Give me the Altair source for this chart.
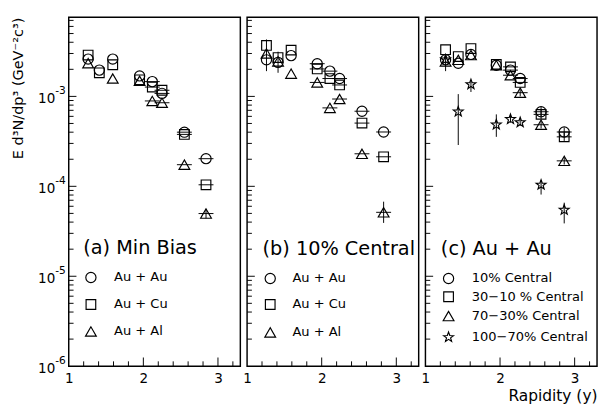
import altair as alt
import pandas as pd

FONT = "DejaVu Sans"

# ---------------- data ----------------
# (a) Min Bias
RAP_A = [1.26, 1.41, 1.59, 1.95, 2.12, 2.25, 2.55, 2.84]
A_AUAU = [2.60e-3, 1.96e-3, 2.60e-3, 1.69e-3, 1.46e-3, 1.08e-3, 4.00e-4, 2.03e-4]
A_AUCU = [2.88e-3, 1.83e-3, 2.25e-3, 1.53e-3, 1.27e-3, 1.17e-3, 3.78e-4, 1.04e-4]
A_AUAL = [2.34e-3, None, 1.58e-3, 1.49e-3, 8.90e-4, 8.50e-4, 1.74e-4, 4.98e-5]
A_AUAL_LO = [None, None, None, None, None, None, None, 4.40e-5]
A_AUAL_HI = [None, None, None, None, None, None, None, 5.60e-5]
XERR_A = [0, 0, 0, 0, 0.1, 0.1, 0.1, 0.1]

# (b) 10% Central
RAP_B = [1.26, 1.415, 1.59, 1.94, 2.11, 2.24, 2.54, 2.83]
B_AUAU = [2.55e-3, 2.39e-3, 2.84e-3, 2.31e-3, 1.91e-3, 1.58e-3, 6.84e-4, 4.02e-4]
B_AUCU = [3.69e-3, 2.70e-3, 3.27e-3, 2.02e-3, 1.58e-3, 1.34e-3, 5.05e-4, 2.13e-4]
B_AUAL = [3.00e-3, 2.45e-3, 1.79e-3, 1.43e-3, 7.45e-4, 9.35e-4, 2.30e-4, 5.14e-5]
B_AUAU_LO = [1.91e-3, 1.83e-3, None, None, None, None, None, None]
B_AUAU_HI = [3.27e-3, 3.14e-3, None, None, None, None, None, None]
B_AUCU_LO = [3.14e-3, None, None, None, None, None, None, None]
B_AUCU_HI = [4.30e-3, None, None, None, None, None, None, None]
B_AUAL_LO = [None, None, None, None, None, None, None, 3.92e-5]
B_AUAL_HI = [None, None, None, None, None, None, None, 6.75e-5]
XERR_B = [0, 0, 0, 0.1, 0.1, 0.1, 0.1, 0.1]

# (c) Au + Au centrality classes
RAP_C = [1.27, 1.44, 1.61, 1.95, 2.14, 2.27, 2.55, 2.86]
C_10 = [2.55e-3, 2.34e-3, 2.93e-3, 2.22e-3, 1.96e-3, 1.58e-3, 6.75e-4, 4.02e-4]
C_30_10 = [3.31e-3, 2.77e-3, 3.40e-3, 2.27e-3, 2.13e-3, 1.43e-3, 6.31e-4, 3.55e-4]
C_70_30 = [2.45e-3, 2.55e-3, 2.88e-3, 2.22e-3, 1.72e-3, 1.10e-3, 4.84e-4, 1.92e-4]
C_100_70 = [2.57e-3, 6.75e-4, 1.36e-3, 4.84e-4, 5.57e-4, 5.14e-4, 1.04e-4, 5.46e-5]
C_10_LO = [None, None, None, None, None, None, 6.00e-4, 3.60e-4]
C_10_HI = [None, None, None, None, None, None, 7.60e-4, 4.50e-4]
C_30_10_LO = [None, None, None, None, None, None, 5.60e-4, 3.20e-4]
C_30_10_HI = [None, None, None, None, None, None, 7.10e-4, 3.95e-4]
C_70_30_LO = [None, None, None, None, None, 1.00e-3, 4.40e-4, 1.75e-4]
C_70_30_HI = [None, None, None, None, None, 1.20e-3, 5.30e-4, 2.10e-4]
C_100_70_LO = [1.91e-3, 2.88e-4, 1.12e-3, 3.55e-4, 5.10e-4, 4.70e-4, 8.10e-5, 3.87e-5]
C_100_70_HI = [2.88e-3, 1.06e-3, 1.49e-3, 6.31e-4, 6.10e-4, 5.60e-4, 1.17e-4, 6.58e-5]
XERR_C = [0, 0, 0, 0, 0.1, 0.1, 0.1, 0.1]

Y_MAJOR = [1e-6, 1e-5, 1e-4, 1e-3]
Y_EXP = ["-6", "-5", "-4", "-3"]
Y_TOP = 7.6e-3
X_MAJOR = [2, 3]
X_MINOR = [1.2, 1.4, 1.6, 1.8, 2.2, 2.4, 2.6, 2.8, 3.2]

# ---------------- layout / style ----------------
W, H = 178, 362
STAR = ("M0,-1L0.24,-0.33L0.951,-0.309L0.39,0.127L0.588,0.809L0,0.41"
        "L-0.588,0.809L-0.39,0.127L-0.951,-0.309L-0.24,-0.33Z")
SYMBOLS = {
    "circle": ("circle", 112),
    "square": ("square", 100),
    "triangle": ("triangle-up", 125),
    "star": (STAR, 115),
}

XS = alt.Scale(domain=[1, 3.3], nice=False, zero=False)
YS = alt.Scale(type="log", domain=[1e-6, Y_TOP], nice=False)


def frame(rap, vals, sym, xerr, lo=None, hi=None):
    rows = []
    for i, (r, v) in enumerate(zip(rap, vals)):
        if v is None:
            continue
        rows.append(dict(rap=r, val=v, sym=sym,
                         xlo=r - xerr[i], xhi=r + xerr[i], xe=xerr[i],
                         lo=(lo[i] if lo else None), hi=(hi[i] if hi else None)))
    return rows


def y_minor():
    out = []
    for e in (-6, -5, -4, -3):
        for k in range(2, 10):
            v = k * 10.0 ** e
            if v < Y_TOP:
                out.append(v)
    return out


def panel(rows, legend_rows, title_text, first=False, last=False):
    df = pd.DataFrame(rows)

    xaxis_kw = dict(values=[1, 2, 3], format="d", tickSize=0, labelPadding=6,
                    domain=False, grid=False, labelFlush=False, labelFontSize=14,
                    labelFont=FONT, labelColor="black")
    if last:
        xaxis_kw.update(title="Rapidity (y)", titleFont=FONT, titleFontSize=16,
                        titleFontWeight="normal", titleColor="black",
                        titleAnchor="end", titleAlign="right", titleX=W,
                        titleY=31, titleBaseline="middle")
    else:
        xaxis_kw.update(title="")
    XA = alt.Axis(**xaxis_kw)
    if first:
        YA = alt.Axis(values=Y_MAJOR, tickSize=0, labels=False, domain=False,
                      grid=False,
                      title="E d\u00b3N/dp\u00b3 (GeV\u207b\u00b2c\u00b3)",
                      titleFont=FONT, titleFontSize=15, titleFontWeight="normal",
                      titleColor="black", titleAngle=-90, titleX=-53, titleY=0,
                      titleAlign="right", titleBaseline="middle")
    else:
        YA = None

    def X(field):
        return alt.X(field, type="quantitative", scale=XS, axis=XA)

    def Y(field):
        return alt.Y(field, type="quantitative", scale=YS, axis=YA)

    layers = []
    # inward y ticks
    ymaj = pd.DataFrame({"val": Y_MAJOR[1:]})
    ymin = pd.DataFrame({"val": y_minor()})
    layers.append(alt.Chart(ymaj).mark_rule(color="black", strokeWidth=1).encode(
        y=Y("val"), x=alt.value(0), x2=alt.value(8)))
    layers.append(alt.Chart(ymin).mark_rule(color="black", strokeWidth=1).encode(
        y=Y("val"), x=alt.value(0), x2=alt.value(5)))
    # inward x ticks
    xmaj = pd.DataFrame({"rap": X_MAJOR})
    xmin = pd.DataFrame({"rap": X_MINOR})
    layers.append(alt.Chart(xmaj).mark_rule(color="black", strokeWidth=1).encode(
        x=X("rap"), y=alt.value(H), y2=alt.value(H - 9)))
    layers.append(alt.Chart(xmin).mark_rule(color="black", strokeWidth=1).encode(
        x=X("rap"), y=alt.value(H), y2=alt.value(H - 5)))

    # y tick labels "10" with raised exponent
    if first:
        lab = pd.DataFrame({"val": Y_MAJOR, "exp": Y_EXP})
        layers.append(alt.Chart(lab).mark_text(
            text="10", align="right", baseline="middle", font=FONT, fontSize=14,
            color="black", dy=3).encode(y=Y("val"), x=alt.value(-14)))
        layers.append(alt.Chart(lab).mark_text(
            align="left", baseline="middle", font=FONT, fontSize=11,
            color="black", dy=-5).encode(y=Y("val"), x=alt.value(-14),
                                         text="exp:N"))

    # vertical error bars
    ev = df.dropna(subset=["lo"])
    if len(ev):
        layers.append(alt.Chart(ev).mark_rule(color="black", strokeWidth=1).encode(
            x=X("rap"), y=Y("lo"), y2="hi:Q"))
    # horizontal error bars
    eh = df[df["xe"] > 0]
    if len(eh):
        layers.append(alt.Chart(eh).mark_rule(color="black", strokeWidth=1).encode(
            x=X("xlo"), x2="xhi:Q", y=Y("val")))

    # data points
    for sym in ["circle", "square", "triangle", "star"]:
        sub = df[df["sym"] == sym]
        if not len(sub):
            continue
        shape, size = SYMBOLS[sym]
        layers.append(alt.Chart(sub).mark_point(
            shape=shape, size=size, filled=False, color="black",
            strokeWidth=1.2, opacity=1).encode(x=X("rap"), y=Y("val")))

    one = pd.DataFrame({"k": [0]})
    # panel label
    tx, ty = title_text[1], title_text[2]
    layers.append(alt.Chart(one).mark_text(text=title_text[0], align="left",
                                           baseline="middle", font=FONT, fontSize=20,
                                           color="black").encode(
        x=alt.value(tx), y=alt.value(ty)))
    # legend entries
    for sym, label, sx, tx2, yy in legend_rows:
        shape, size = SYMBOLS[sym]
        layers.append(alt.Chart(one).mark_point(shape=shape, size=size, filled=False,
                                                color="black", strokeWidth=1.2,
                                                opacity=1).encode(
            x=alt.value(sx), y=alt.value(yy)))
        layers.append(alt.Chart(one).mark_text(text=label, align="left",
                                               baseline="middle", font=FONT,
                                               fontSize=13.5, color="black").encode(
            x=alt.value(tx2), y=alt.value(yy)))

    return alt.layer(*layers).properties(width=W, height=H)


rows_a = (frame(RAP_A, A_AUAU, "circle", XERR_A)
          + frame(RAP_A, A_AUCU, "square", XERR_A)
          + frame(RAP_A, A_AUAL, "triangle", XERR_A, A_AUAL_LO, A_AUAL_HI))
rows_b = (frame(RAP_B, B_AUAU, "circle", XERR_B, B_AUAU_LO, B_AUAU_HI)
          + frame(RAP_B, B_AUCU, "square", XERR_B, B_AUCU_LO, B_AUCU_HI)
          + frame(RAP_B, B_AUAL, "triangle", XERR_B, B_AUAL_LO, B_AUAL_HI))
rows_c = (frame(RAP_C, C_10, "circle", XERR_C, C_10_LO, C_10_HI)
          + frame(RAP_C, C_30_10, "square", XERR_C, C_30_10_LO, C_30_10_HI)
          + frame(RAP_C, C_70_30, "triangle", XERR_C, C_70_30_LO, C_70_30_HI)
          + frame(RAP_C, C_100_70, "star", [0] * 8, C_100_70_LO, C_100_70_HI))

leg_a = [("circle", "Au + Au", 23, 47, 270),
         ("square", "Au + Cu", 23, 47, 298),
         ("triangle", "Au + Al", 23, 47, 326)]
leg_b = [("circle", "Au + Au", 24, 47, 271),
         ("square", "Au + Cu", 24, 47, 298),
         ("triangle", "Au + Al", 24, 47, 327)]
leg_c = [("circle", "10% Central", 24, 48, 271),
         ("square", "30\u221210 % Central", 24, 48, 290),
         ("triangle", "70\u221230% Central", 24, 48, 310),
         ("star", "100\u221270% Central", 24, 48, 332)]

pa = panel(rows_a, leg_a, ("(a) Min Bias", 15, 240), first=True)
pb = panel(rows_b, leg_b, ("(b) 10% Central", 16, 241))
pc = panel(rows_c, leg_c, ("(c) Au + Au", 16, 241), last=True)

chart = alt.hconcat(pa, pb, pc, spacing=0).resolve_scale(
    x="independent", y="independent"
).properties(
    padding={"left": 2, "top": 1, "right": 0, "bottom": 0}
).configure(font=FONT).configure_view(stroke="black", strokeWidth=1.5)

chart.save("out.html", embed_options={"renderer": "svg", "actions": False})
